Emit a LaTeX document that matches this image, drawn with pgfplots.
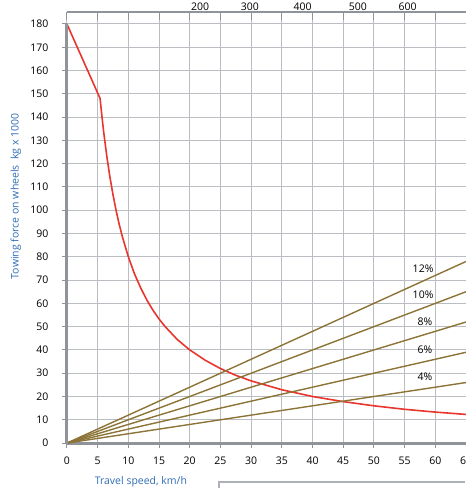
\documentclass[border=0pt]{standalone}
\usepackage{fontspec}
\setmainfont{Open Sans}
\usepackage{pgfplots}
\pgfplotsset{compat=1.18}
\definecolor{redc}{HTML}{E8362F}
\definecolor{olivec}{HTML}{8C7437}
\definecolor{bluet}{HTML}{2F6DB5}
\definecolor{gridc}{HTML}{BABDC2}
\definecolor{axc}{HTML}{909398}
\begin{document}
\begin{tikzpicture}
\begin{axis}[
  scale only axis, width=399.1pt, height=430.7pt,
  xmin=0, xmax=65, ymin=0, ymax=185,
  axis x line*=bottom, axis y line*=left,
  axis line style={-},
  x axis line style={axc, line width=3pt},
  y axis line style={draw=none},
  xtick={0,5,...,65}, ytick={0,10,...,180},
  grid=major, grid style={gridc, line width=1pt},
  tick align=outside, major tick length=5pt,
  tick style={axc, line width=1pt},
  ticklabel style={font=\fontsize{10.5}{12}\selectfont},
  xticklabel style={yshift=-5pt},
  yticklabel style={xshift=-10pt},
  /pgf/number format/assume math mode=true,
  clip=false,
]
\addplot[redc, line width=1.6pt] coordinates {
(0,180) (5.4,148) (5.6,142.9) (5.8,137.9) (6,133.3) (6.5,123.1) (7,114.3)
(7.5,106.7) (8,100) (8.5,94.1) (9,88.9) (10,80) (11,72.7) (12,66.7) (13,61.5)
(14,57.1) (15,53.3) (16,50) (18,44.4) (20,40) (22.5,35.6) (25,32) (27.5,29.1)
(30,26.7) (35,22.9) (40,20) (45,17.8) (50,16) (55,14.5) (60,13.3) (65,12.3)};
\addplot[olivec, line width=1.4pt] coordinates {(0,0) (65,78)};
\addplot[olivec, line width=1.4pt] coordinates {(0,0) (65,65)};
\addplot[olivec, line width=1.4pt] coordinates {(0,0) (65,52)};
\addplot[olivec, line width=1.4pt] coordinates {(0,0) (65,39)};
\addplot[olivec, line width=1.4pt] coordinates {(0,0) (65,26)};
\draw[axc, line width=3pt] (axis cs:0,-0.6) -- (axis cs:0,180);
\begin{scope}[font=\fontsize{10.5}{12}\selectfont]
\node at (axis cs:58,75) {12\%};
\node at (axis cs:58,63.5) {10\%};
\node at (axis cs:58.3,52) {8\%};
\node at (axis cs:58.3,40) {6\%};
\node at (axis cs:58.3,28.5) {4\%};
\node[text=bluet, rotate=90] at (axis cs:-8.3,106) {Towing force on wheels\ \ kg x 1000};
\node[text=bluet] at (axis cs:12.05,-16.8) {Travel speed, km/h};
\end{scope}
\draw[gridc!80!gray, line width=2pt] (axis cs:64.84,-16.75) -- (axis cs:24.75,-16.75) -- (axis cs:24.75,-22);
\coordinate (bl) at (axis cs:-10.9,-19.3);
\coordinate (tr) at (axis cs:64.84,190.3);
\end{axis}
\begin{axis}[
  scale only axis, width=399.1pt, height=430.7pt,
  xmin=0, xmax=65, ymin=0, ymax=185,
  axis x line*=top, axis y line=none,
  axis line style={-},
  x axis line style={axc, line width=2pt},
  xtick={0,5,...,65}, xticklabels={},
  tick align=inside, major tick length=8pt,
  tick style={axc, line width=1pt},
  extra x ticks={21.7,29.8,38.4,47.4,55.5},
  extra x tick labels={200,300,400,500,600},
  extra x tick style={major tick length=0pt, tick style={draw=none}},
  ticklabel style={font=\fontsize{10.5}{12}\selectfont},
  xticklabel style={yshift=-2pt},
  /pgf/number format/assume math mode=true,
]
\addplot[draw=none] coordinates {(0,0)};
\end{axis}
\pgfresetboundingbox
\useasboundingbox (bl) rectangle (tr);
\end{tikzpicture}
\end{document}
